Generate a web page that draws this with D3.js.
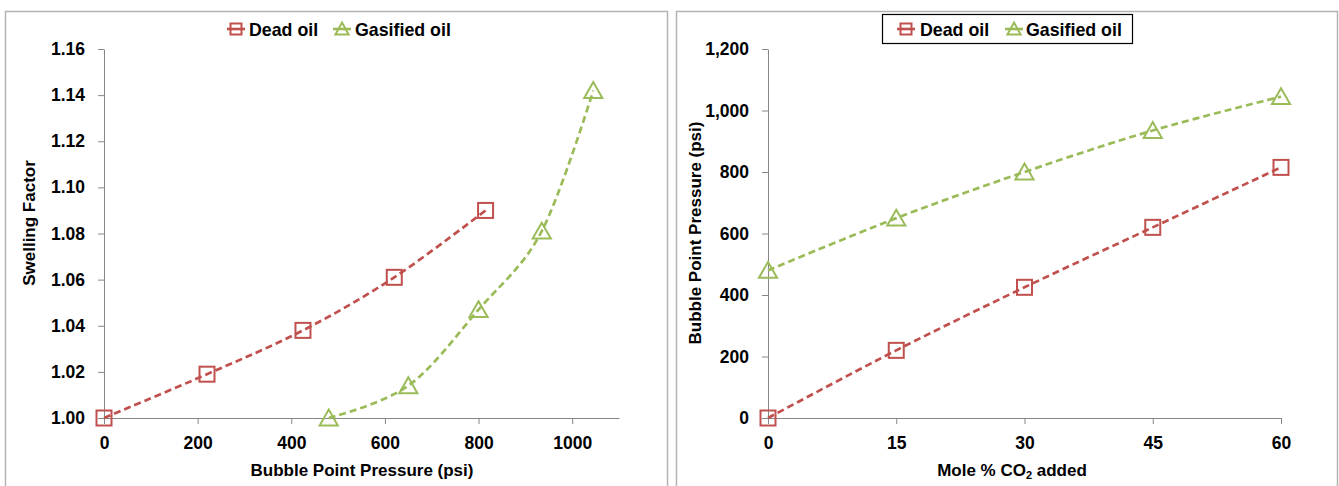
<!DOCTYPE html>
<html>
<head>
<meta charset="utf-8">
<script src="https://cdn.jsdelivr.net/npm/d3@7"></script>
<style>
  html, body { margin: 0; padding: 0; background: #fff; }
  svg text { font-family: "Liberation Sans", Arial, sans-serif; font-weight: bold; fill: #000; }
</style>
</head>
<body>
<svg id="chart" width="1339" height="486"></svg>
<script>
// Bubble point pressure (psi) of each oil at the CO2 levels below
const co2Added = [0, 15, 30, 45, 60];
const deadOilPb = [0, 220, 425, 620, 815];
const gasifiedOilPb = [480, 650, 800, 935, 1045];
// Swelling factor measured at each of those bubble points
const deadOilSwelling = [1.000, 1.019, 1.038, 1.061, 1.090];
const gasifiedOilSwelling = [1.000, 1.014, 1.047, 1.081, 1.142];

const seriesNames = ["Dead oil", "Gasified oil"];
const seriesColors = ["#C0504D", "#9BBB59"];

// Axis ticks
const swellingTicks = [1.00, 1.02, 1.04, 1.06, 1.08, 1.10, 1.12, 1.14, 1.16];
const pressureTicks = [0, 200, 400, 600, 800, 1000];
const co2Ticks = [0, 15, 30, 45, 60];
const pbTicks = [0, 200, 400, 600, 800, 1000, 1200];

const svg = d3.select("#chart");
const axisColor = "#868686";

function marker(g, shape, color, size) {
  if (shape === "square") {
    g.append("rect")
      .attr("x", -size / 2).attr("y", -size / 2)
      .attr("width", size).attr("height", size)
      .attr("fill", "none").attr("stroke", color).attr("stroke-width", 2);
  } else {
    const h = size * 0.9, w = size * 1.1;
    g.append("path")
      .attr("d", `M0,${-h / 2 - 1}L${w / 2},${h / 2}L${-w / 2},${h / 2}Z`)
      .attr("fill", "none").attr("stroke", color).attr("stroke-width", 2)
      .attr("stroke-linejoin", "miter");
  }
}

function styleAxis(g) {
  g.attr("font-family", null).attr("font-size", null);
  g.select(".domain").attr("stroke", axisColor);
  g.selectAll(".tick line").attr("stroke", axisColor);
  g.selectAll(".tick text").attr("font-size", 17.5);
}

function drawPanel(cfg) {
  // panel frame
  svg.append("rect")
    .attr("x", cfg.frame[0]).attr("y", cfg.frame[1])
    .attr("width", cfg.frame[2]).attr("height", cfg.frame[3])
    .attr("fill", "#fff").attr("stroke", "#b3b3b3").attr("stroke-width", 1.5);

  const x = d3.scaleLinear().domain(cfg.xDomain).range(cfg.xRange);
  const y = d3.scaleLinear().domain(cfg.yDomain).range(cfg.yRange);

  svg.append("g")
    .attr("transform", `translate(0,${cfg.yRange[0]})`)
    .call(d3.axisBottom(x).tickValues(cfg.xTicks).tickSize(6).tickSizeOuter(0).tickPadding(12.5)
      .tickFormat(cfg.xFormat))
    .call(styleAxis);

  svg.append("g")
    .attr("transform", `translate(${cfg.xRange[0]},0)`)
    .call(d3.axisLeft(y).tickValues(cfg.yTicks).tickSize(6).tickSizeOuter(0).tickPadding(13)
      .tickFormat(cfg.yFormat))
    .call(styleAxis);

  // axis titles
  const xt = svg.append("text")
    .attr("x", cfg.xTitlePos[0]).attr("y", cfg.xTitlePos[1])
    .attr("text-anchor", "middle").attr("font-size", 17);
  cfg.xTitle(xt);

  svg.append("text")
    .attr("transform", `translate(${cfg.yTitlePos[0]},${cfg.yTitlePos[1]}) rotate(-90)`)
    .attr("text-anchor", "middle").attr("font-size", 17)
    .text(cfg.yTitle);

  const line = d3.line()
    .x(d => x(d[0])).y(d => y(d[1]))
    .curve(d3.curveCardinal.tension(0));

  cfg.series.forEach((s, i) => {
    const pts = s.xs.map((v, k) => [v, s.ys[k]]);
    svg.append("path")
      .datum(pts)
      .attr("d", line)
      .attr("fill", "none")
      .attr("stroke", seriesColors[i])
      .attr("stroke-width", 2.7)
      .attr("stroke-dasharray", "7,4");
    pts.forEach(p => {
      const g = svg.append("g").attr("transform", `translate(${x(p[0])},${y(p[1])})`);
      marker(g, s.shape, seriesColors[i], s.shape === "square" ? 15 : 16.5);
    });
  });

  // legend
  const lg = svg.append("g").attr("transform", `translate(${cfg.legendPos[0]},${cfg.legendPos[1]})`);
  if (cfg.legendBox) {
    lg.append("rect")
      .attr("x", cfg.legendBox[0]).attr("y", cfg.legendBox[1])
      .attr("width", cfg.legendBox[2]).attr("height", cfg.legendBox[3])
      .attr("fill", "#fff").attr("stroke", "#000").attr("stroke-width", 1.2);
  }
  const shapes = ["square", "triangle"];
  seriesNames.forEach((name, i) => {
    const item = lg.append("g").attr("transform", `translate(${cfg.legendOffsets[i]},0)`);
    item.append("line").attr("x1", -9).attr("x2", 9).attr("y1", 0).attr("y2", 0)
      .attr("stroke", seriesColors[i]).attr("stroke-width", 2.6);
    marker(item.append("g"), shapes[i], seriesColors[i], shapes[i] === "square" ? 11 : 12);
    item.append("text").attr("x", cfg.legendTextGap[i]).attr("y", 6.5).attr("font-size", 17.8).text(name);
  });
}

drawPanel({
  frame: [5.5, 11.5, 662, 480],
  xDomain: [0, 1100], xRange: [104, 619],
  yDomain: [1.00, 1.16], yRange: [418, 49],
  xTicks: pressureTicks, yTicks: swellingTicks,
  xFormat: d3.format("d"), yFormat: d3.format(".2f"),
  xTitlePos: [362, 476],
  xTitle: t => t.text("Bubble Point Pressure (psi)"),
  yTitle: "Swelling Factor",
  yTitlePos: [35, 223],
  legendPos: [236, 29],
  legendOffsets: [0, 106],
  legendTextGap: [13, 13],
  series: [
    { xs: deadOilPb, ys: deadOilSwelling, shape: "square" },
    { xs: gasifiedOilPb, ys: gasifiedOilSwelling, shape: "triangle" }
  ]
});

drawPanel({
  frame: [676.5, 11.5, 661, 480],
  xDomain: [0, 60], xRange: [768, 1281],
  yDomain: [0, 1200], yRange: [418, 49],
  xTicks: co2Ticks, yTicks: pbTicks,
  xFormat: d3.format("d"), yFormat: d3.format(","),
  xTitlePos: [1012, 476],
  xTitle: t => {
    t.append("tspan").text("Mole % CO");
    t.append("tspan").attr("font-size", 11).attr("baseline-shift", "-25%").text("2");
    t.append("tspan").text(" added");
  },
  yTitle: "Bubble Point Pressure (psi)",
  yTitlePos: [701, 233],
  legendPos: [906, 29],
  legendOffsets: [0, 108],
  legendTextGap: [14, 12],
  legendBox: [-23.5, -14.5, 250, 29],
  series: [
    { xs: co2Added, ys: deadOilPb, shape: "square" },
    { xs: co2Added, ys: gasifiedOilPb, shape: "triangle" }
  ]
});
</script>
</body>
</html>
